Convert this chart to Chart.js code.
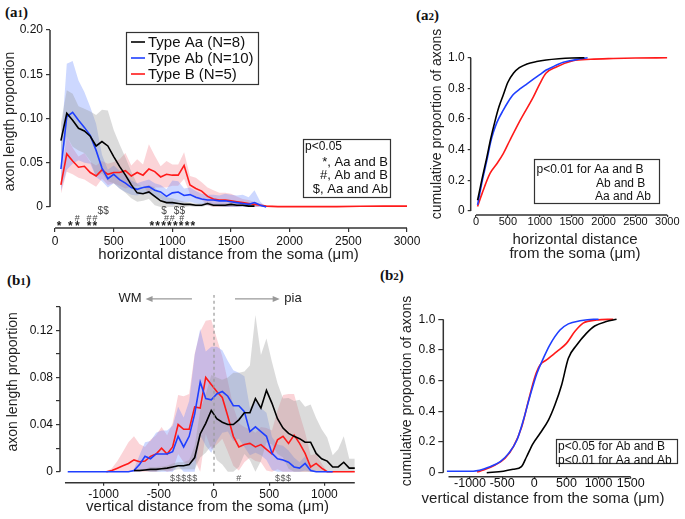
<!DOCTYPE html>
<html lang="en">
<head>
<meta charset="UTF-8">
<title>Axon length distributions</title>
<script src="https://cdn.jsdelivr.net/npm/chart.js"></script>
<style>
  body { margin: 0; width: 685px; height: 519px; background: #fff; position: relative; overflow: hidden; }
  canvas { position: absolute; }
  .tag { position: absolute; font: bold 15px 'Liberation Serif', 'Times New Roman', serif; color: #111; line-height: 1; }
  .tag span { font-size: 11px; }
</style>
</head>
<body>
<div class="tag" style="left:5px;top:5px">(a<span>1</span>)</div>
<div class="tag" style="left:416px;top:8px">(a<span>2</span>)</div>
<div class="tag" style="left:7px;top:273px">(b<span>1</span>)</div>
<div class="tag" style="left:380px;top:268px">(b<span>2</span>)</div>

<canvas id="a1" width="424" height="266" style="left:0;top:0"></canvas>
<canvas id="a2" width="305" height="266" style="left:380px;top:0"></canvas>
<canvas id="b1" width="372" height="249" style="left:0;top:270px"></canvas>
<canvas id="b2" width="305" height="249" style="left:380px;top:270px"></canvas>

<script>
const FONT = "'Liberation Sans', Arial, sans-serif";
Chart.defaults.font.family = FONT;

const groupNames = ['Type Aa (N=8)', 'Type Ab (N=10)', 'Type B (N=5)'];
const groupColors = ['#000000', '#1f3fff', '#ff1a1a'];
const bandColors = ['rgba(150,150,150,0.34)', 'rgba(90,125,255,0.30)', 'rgba(240,100,115,0.28)'];

// (a1) horizontal distribution, 50 um bins
const hBins = [50,100,150,200,250,300,350,400,450,500,550,600,650,700,750,800,850,900,
  950,1000,1050,1100,1150,1200,1250,1300,1350,1400,1450,1500,1550,1600,1650,1700,1750,1800];
const hTail = [1900,2000,2200,2400,2600,2800,3000];
const hAaMean = [.075,.106,.098,.089,.086,.080,.069,.074,.069,.057, .046,.036,.025,.016,.015,.017,.012,.007,.005,.005,
  .004,.003,.003,.002,.002,.004,.002,.002,.002,.003, .002,.002,.001,.001];
const hAaSem = [.02,.026,.03,.025,.025,.028,.035,.036,.04,.03, .025,.02,.015,.01,.008,.008,.01,.008,.006,.005,
  .004,.003,.002,.002,.002,.002,.002,.002,.002,.002, .002,.001,.001,.001];
const hAbMean = [.043,.102,.107,.098,.090,.081,.064,.044,.032,.037, .031,.027,.022,.020,.022,.023,.019,.017,.012,.016,
  .017,.013,.014,.011,.009,.008,.008,.007,.007,.006, .005,.004,.003,.005,.002,0];
const hAbSem = [.025,.06,.058,.045,.04,.032,.03,.015,.01,.01, .01,.01,.008,.007,.007,.008,.008,.008,.008,.014,
  .012,.008,.008,.007,.006,.006,.006,.006,.008,.008, .008,.01,.008,.014,.004,0];
const hBMean = [.025,.060,.052,.045,.046,.039,.035,.042,.037,.039, .039,.041,.035,.039,.036,.043,.040,.034,.037,.036,
  .036,.047,.025,.021,.018,.012,.009,.008,.008,.007, .006,.005,.004,.003,.002,.001,
  .0005,.0005,.0005,.0005,.0008,.001,.001];
const hBSem = [.01,.02,.015,.012,.015,.012,.012,.01,.012,.012, .015,.02,.012,.015,.012,.028,.018,.012,.015,.012,
  .012,.015,.01,.012,.01,.01,.01,.008,.008,.008, .006,.004,.004,.003,.002,.001, 0,0,0,0,0,0,0];
const hStars = [35,130,190,290,340,825,875,925,975,1025,1075,1125,1175];
const hHashes = [190,290,340,950,1000,1080];
const hDollars = [385,435,930,1035,1085];
const hTicks = [0,500,1000,1500,2000,2500,3000];

// (a2) cumulative, horizontal
const cAaX = [25,100,170,230,300,360,430,500,590,680,800,950,1100,1300,1500,1700];
const cAaY = [.07,.22,.35,.47,.59,.68,.76,.84,.90,.935,.96,.975,.985,.993,.998,1.0];
const cAbX = [25,100,170,230,270,330,430,500,585,700,800,900,1000,1100,1200,1300,1470,1600,1750];
const cAbY = [.04,.20,.33,.45,.51,.58,.66,.71,.76,.80,.83,.86,.89,.92,.94,.96,.98,.99,1.0];
const cBX = [25,100,220,330,430,530,690,900,1000,1100,1260,1520,1800,2150,2500,3000];
const cBY = [.03,.12,.245,.31,.376,.46,.59,.745,.83,.90,.94,.98,.99,.995,.998,1.0];

// (b1) vertical distribution, 50 um bins
const vBins = [-1325,-1275,-1225,-1175,-1125,-1075,-1025,-975,-925,-875,-825,-775,-725,-675,-625,-575,-525,
  -475,-425,-375,-325,-275,-225,-175,-125,-75,-25,25,75,125,175,225,275,325,375,425,475,525,575,625,675,725,
  775,825,875,925,975,1025,1075,1125,1175,1225,1275];
const vAaMean = [.001,.001,.0015,.002,.002,.0025,.003,.004,.005,.005, .006,.012,.032,.041,.052,.045,.042,.040,.040,.044,
  .050,.050,.062,.054,.069,.058,.045,.037,.0325,.030, .028,.025,.025,.0155,.011,.009,.004,.004,.008,.003, .003];
const vAaSem = [.001,.001,.001,.002,.002,.002,.002,.003,.003,.003, .004,.01,.02,.025,.03,.035,.036,.04,.044,.04,
  .035,.04,.071,.045,.044,.035,.03,.025,.03,.03, .033,.03,.032,.03,.025,.02,.01,.015,.022,.008, .008];
const vAbMean = [0,0,0,0,0,0,0,0,0,0, 0,0,.001,.006,.013,.011,.015,.015,.015,.017,
  .030,.021,.030,.049,.076,.062,.061,.066,.068,.064, .056,.056,.051,.034,.038,.034,.030,.0155,.011,.010,
  .008,.004,.003,.007,.001,0,0,0,0];
const vAbSem = [0,0,0,0,0,0,0,0,0,0, 0,0,.001,.008,.012,.015,.018,.02,.02,.022,
  .025,.025,.03,.05,.045,.04,.045,.04,.035,.03, .03,.028,.03,.02,.022,.02,.02,.014,.012,.012,
  .01,.008,.005,.006,.002,0,0,0,0];
const vBMean = [0,.001,.003,.005,.007,.010,.0085,.009,.013,.015, .020,.015,.021,.040,.036,.036,.055,.054,.080,.074,
  .068,.063,.047,.030,.021,.023,.024,.021,.023,.019, .015,.027,.030,.024,.031,.024,.0155,.004,.007,.003, 0,0,0,0,0,0];
const vBSem = [0,.002,.006,.012,.018,.02,.015,.012,.014,.016, .018,.016,.02,.025,.028,.03,.045,.065,.048,.055,
  .045,.035,.03,.025,.02,.015,.012,.012,.015,.018, .02,.025,.035,.042,.035,.025,.018,.01,.008,.004, 0,0,0,0,0,0];
const vDollars = [-375,-325,-275,-225,-175,575,625,675];
const vHashes = [225];
const vTicks = [-1000,-500,0,500,1000];

// (b2) cumulative, vertical
const dAaX = [-740,-480,-330,-200,-120,-20,90,220,320,425,530,660,810,940,1120,1280];
const dAaY = [0,.01,.022,.04,.104,.19,.257,.343,.441,.572,.746,.832,.908,.956,.985,1.0];
const dAbX = [-1360,-950,-690,-530,-400,-270,-170,-70,40,140,240,400,530,710,920,1000];
const dAbY = [.01,.01,.039,.072,.126,.213,.343,.495,.647,.745,.832,.93,.97,.99,1.0,1.0];
const dBX = [-890,-790,-610,-455,-325,-195,-95,10,90,190,350,500,630,760,970,1230];
const dBY = [.005,.017,.05,.094,.17,.30,.463,.626,.702,.735,.789,.843,.92,.975,.995,1.0];

const cumTicks = [0,0.2,0.4,0.6,0.8,1.0];
const cumLabels = ['0','0.2','0.4','0.6','0.8','1.0'];
const cumTitle = 'cumulative proportion of axons';

function pts(xs, ys) { return ys.map((v, i) => ({ x: xs[i], y: v })); }
function edge(xs, m, s, sign) { return m.map((v, i) => ({ x: xs[i], y: Math.max(0, v + sign * s[i]) })); }

function line(k, xs, ys, smooth) {
  return { label: groupNames[k], data: pts(xs, ys), borderColor: groupColors[k], borderWidth: 1.6,
    pointRadius: 0, fill: false, order: 1, cubicInterpolationMode: smooth ? 'monotone' : 'default' };
}
function band(k, xs, m, s) {
  return [
    { data: edge(xs, m, s, 1), fill: '+1', backgroundColor: bandColors[k], borderWidth: 0, pointRadius: 0, order: 5 },
    { data: edge(xs, m, s, -1), fill: false, borderWidth: 0, pointRadius: 0, order: 5 }
  ];
}

function arrow(ctx, x1, x2, y) {
  const d = x2 > x1 ? 1 : -1;
  ctx.beginPath(); ctx.moveTo(x1, y); ctx.lineTo(x2 - d * 5, y); ctx.stroke();
  ctx.beginPath(); ctx.moveTo(x2, y); ctx.lineTo(x2 - d * 7, y - 3); ctx.lineTo(x2 - d * 7, y + 3); ctx.closePath(); ctx.fill();
}

function decor(spec) {
  return {
    id: 'decor',
    afterDraw(chart) {
      const { ctx, chartArea: ca, scales: { x, y } } = chart;
      ctx.save();
      ctx.strokeStyle = '#333'; ctx.lineWidth = 1.5;
      ctx.beginPath();
      ctx.moveTo(ca.left, y.getPixelForValue(spec.yLine[0]));
      ctx.lineTo(ca.left, y.getPixelForValue(spec.yLine[1]));
      ctx.moveTo(x.getPixelForValue(spec.xLine[0]), ca.bottom);
      ctx.lineTo(x.getPixelForValue(spec.xLine[1]), ca.bottom);
      ctx.stroke();
      ctx.lineWidth = 1.2;
      (spec.boxes || []).forEach(b => ctx.strokeRect(b[0] + .5, b[1] + .5, b[2] - b[0], b[3] - b[1]));
      (spec.samples || []).forEach(s => {
        ctx.strokeStyle = s.color; ctx.lineWidth = 1.6;
        ctx.beginPath(); ctx.moveTo(s.x1, s.y); ctx.lineTo(s.x2, s.y); ctx.stroke();
      });
      ctx.textBaseline = 'middle';
      (spec.texts || []).forEach(t => {
        ctx.save();
        ctx.font = (t.bold ? 'bold ' : '') + t.size + 'px ' + FONT;
        ctx.fillStyle = t.color || '#111';
        ctx.textAlign = t.align || 'left';
        ctx.translate(t.x, t.y);
        if (t.rot) ctx.rotate(-Math.PI / 2);
        ctx.fillText(t.text, 0, 0);
        ctx.restore();
      });
      (spec.marks || []).forEach(m => {
        ctx.font = (m.bold ? 'bold ' : '') + m.size + 'px ' + FONT;
        ctx.fillStyle = m.color; ctx.textAlign = 'center';
        m.at.forEach(v => ctx.fillText(m.glyph, x.getPixelForValue(v), ca.bottom - m.up));
      });
      if (spec.extra) spec.extra(chart);
      ctx.restore();
    }
  };
}

function makeChart(id, o) {
  return new Chart(document.getElementById(id), {
    type: 'line',
    data: { datasets: o.datasets },
    options: {
      responsive: false,
      animation: false,
      layout: { padding: o.pad },
      plugins: { legend: { display: false }, tooltip: { enabled: false } },
      scales: {
        x: {
          type: 'linear', min: o.x.min, max: o.x.max,
          afterFit: s => { s.height = o.x.h; },
          afterBuildTicks: s => { s.ticks = o.x.ticks.map(v => ({ value: v })); },
          ticks: { autoSkip: false, maxRotation: 0, padding: o.x.pad, color: '#111',
            font: { size: o.x.font }, callback: v => String(v) },
          grid: { drawOnChartArea: false, tickLength: o.x.tick, color: '#333', lineWidth: 1.2 },
          border: { display: false },
          title: { display: !!o.x.title, text: o.x.title || '', color: '#222', padding: 0, font: { size: 15 } }
        },
        y: {
          type: 'linear', min: o.y.min, max: o.y.max,
          afterFit: s => { s.width = o.y.w; },
          afterBuildTicks: s => { s.ticks = o.y.ticks.map(v => ({ value: v })); },
          ticks: { autoSkip: false, padding: 3, color: '#111', font: { size: 12 },
            callback: (v, i) => o.y.labels[i] },
          grid: { drawOnChartArea: false, tickLength: o.y.tick, color: '#333', lineWidth: 1.2 },
          border: { display: false },
          title: { display: !!o.y.title, text: o.y.title || '', color: '#222', padding: 0, font: { size: 14 } }
        }
      }
    },
    plugins: [decor(o.decor)]
  });
}

// (a1)
makeChart('a1', {
  pad: { left: 1.6, top: 15, right: 17, bottom: 2 },
  datasets: [
    ...band(0, hBins, hAaMean, hAaSem), ...band(1, hBins, hAbMean, hAbSem),
    ...band(2, hBins.concat(hTail), hBMean, hBSem),
    line(0, hBins, hAaMean), line(1, hBins, hAbMean), line(2, hBins.concat(hTail), hBMean)
  ],
  x: { min: -43, max: 3000, h: 36, ticks: hTicks, pad: 2, tick: 4, font: 12,
    title: 'horizontal distance from the soma (\u03bcm)' },
  y: { min: -0.0237, max: 0.217, w: 48.4, tick: 4, ticks: [0, .05, .10, .15, .20],
    labels: ['0', '0.05', '0.10', '0.15', '0.20'], title: 'axon length proportion' },
  decor: {
    xLine: [0, 3000], yLine: [0, 0.2],
    boxes: [[126, 32, 258, 84], [303, 139, 390, 197]],
    samples: groupColors.map((c, k) => ({ color: c, x1: 131, x2: 145, y: 42 + 16 * k })),
    texts: groupNames.map((n, k) => ({ text: n, x: 148, y: 42.5 + 16 * k, size: 15 })).concat([
      { text: 'p<0.05', x: 305, y: 147, size: 12 },
      { text: '*, Aa and B', x: 388, y: 162.5, size: 13, align: 'right' },
      { text: '#, Ab and B', x: 388, y: 175.5, size: 13, align: 'right' },
      { text: '$, Aa and Ab', x: 388, y: 189, size: 13, align: 'right' }
    ]),
    marks: [
      { at: hStars, glyph: '*', up: 1, size: 12, bold: true, color: '#222' },
      { at: hHashes, glyph: '#', up: 9, size: 9, color: '#444' },
      { at: hDollars, glyph: '$', up: 16.5, size: 10, color: '#444' }
    ]
  }
});

// (a2)
makeChart('a2', {
  pad: { left: 48.6, top: 32, right: 17.7, bottom: 5 },
  datasets: [line(0, cAaX, cAaY, true), line(1, cAbX, cAbY, true), line(2, cBX, cBY, true)],
  x: { min: -83, max: 3000, h: 46, ticks: hTicks, pad: -2, tick: 2, font: 11 },
  y: { min: -0.026, max: 1.168, w: 42.1, tick: 3, ticks: cumTicks, labels: cumLabels },
  decor: {
    xLine: [0, 3000], yLine: [0, 1],
    boxes: [[154, 159, 279, 203]],
    texts: [
      { text: 'p<0.01 for Aa and B', x: 156.5, y: 170, size: 12 },
      { text: 'Ab and B', x: 216, y: 183.5, size: 12 },
      { text: 'Aa and Ab', x: 215, y: 197, size: 12 },
      { text: cumTitle, x: 57, y: 124, size: 14, align: 'center', rot: true, color: '#222' },
      { text: 'horizontal distance', x: 195, y: 240, size: 15, align: 'center', color: '#222' },
      { text: 'from the soma (\u03bcm)', x: 195, y: 254, size: 15, align: 'center', color: '#222' }
    ]
  }
});

// (b1)
const somaLineTop = 0.15;
const arrowLevel = 0.1466;
const wmArrow = [-200, -620], wmLabelAt = -760;
const piaArrow = [190, 595], piaLabelAt = 715;
makeChart('b1', {
  pad: { left: 4.6, top: 11, right: 17, bottom: 3 },
  datasets: [
    ...band(0, vBins.slice(12), vAaMean, vAaSem), ...band(1, vBins, vAbMean, vAbSem),
    ...band(2, vBins.slice(7), vBMean, vBSem),
    line(0, vBins.slice(12), vAaMean), line(1, vBins, vAbMean), line(2, vBins.slice(7), vBMean)
  ],
  x: { min: -1395, max: 1277, h: 33.3, ticks: vTicks, pad: 2, tick: 3, font: 12,
    title: 'vertical distance from the soma (\u03bcm)' },
  y: { min: -0.00934, max: 0.1618, w: 55.4, tick: 4, ticks: [0, .02, .04, .06, .08, .10, .12, .14],
    labels: ['0', '', '0.04', '', '0.08', '', '0.12', ''], title: 'axon length proportion' },
  decor: {
    xLine: [-1350, 1275], yLine: [0, 0.14],
    marks: [
      { at: vDollars, glyph: '$', up: 4.4, size: 9, color: '#555' },
      { at: vHashes, glyph: '#', up: 4.4, size: 9, color: '#555' }
    ],
    extra(chart) {
      const { ctx, scales: { x, y } } = chart;
      const x0 = x.getPixelForValue(0);
      ctx.strokeStyle = '#999'; ctx.fillStyle = '#999'; ctx.lineWidth = 1.2;
      ctx.setLineDash([3, 3]);
      ctx.beginPath(); ctx.moveTo(x0, y.getPixelForValue(0)); ctx.lineTo(x0, y.getPixelForValue(somaLineTop)); ctx.stroke();
      ctx.setLineDash([]);
      const ay = y.getPixelForValue(arrowLevel);
      arrow(ctx, x.getPixelForValue(wmArrow[0]), x.getPixelForValue(wmArrow[1]), ay);
      arrow(ctx, x.getPixelForValue(piaArrow[0]), x.getPixelForValue(piaArrow[1]), ay);
      ctx.fillStyle = '#222'; ctx.font = '13px ' + FONT; ctx.textAlign = 'center'; ctx.textBaseline = 'middle';
      ctx.fillText('WM', x.getPixelForValue(wmLabelAt), ay);
      ctx.fillText('pia', x.getPixelForValue(piaLabelAt), ay);
    }
  }
});

// (b2)
makeChart('b2', {
  pad: { left: 19.1, top: 35, right: 54.3, bottom: 10.7 },
  datasets: [line(0, dAaX, dAaY, true), line(1, dAbX, dAbY, true), line(2, dBX, dBY, true)],
  x: { min: -1416, max: 1500, h: 31.6, ticks: [-1000, -500, 0, 500, 1000, 1500], pad: -2.5, tick: 2, font: 12.5 },
  y: { min: -0.026, max: 1.093, w: 44.2, tick: 5, ticks: cumTicks, labels: cumLabels },
  decor: {
    xLine: [-1335, 1500], yLine: [0, 1],
    boxes: [[176, 169, 297, 193]],
    texts: [
      { text: 'p<0.05 for Ab and B', x: 178, y: 176.5, size: 12 },
      { text: 'p<0.01 for Aa and Ab', x: 178, y: 190.5, size: 12 },
      { text: cumTitle, x: 27.5, y: 121, size: 14, align: 'center', rot: true, color: '#222' },
      { text: 'vertical distance from the soma (\u03bcm)', x: 163, y: 229.3, size: 15, align: 'center', color: '#222' }
    ]
  }
});
</script>
</body>
</html>
